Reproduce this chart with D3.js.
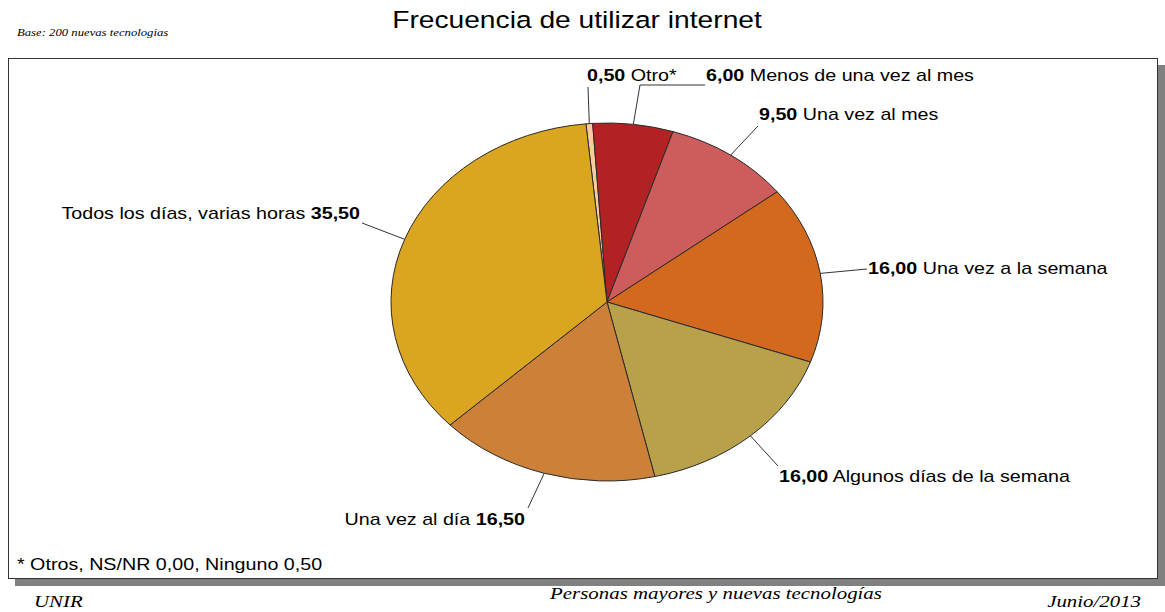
<!DOCTYPE html>
<html>
<head>
<meta charset="utf-8">
<script src="https://cdn.jsdelivr.net/npm/d3@7"></script>
<style>
  body { margin: 0; background: #fff; }
  svg { display: block; }
  .lbl { font-family: "Liberation Sans", Arial, sans-serif; font-size: 16.4px; fill: #000; }
  .serif { font-family: "Liberation Serif", "Times New Roman", serif; font-style: italic; fill: #000; }
</style>
</head>
<body>
<div id="content"></div>
<script>
// data
const categories = ['Otro*', 'Menos de una vez al mes', 'Una vez al mes', 'Una vez a la semana',
  'Algunos días de la semana', 'Una vez al día', 'Todos los días, varias horas'];
const values = [0.5, 6.0, 9.5, 16.0, 16.0, 16.5, 35.5];
const colors = ['#F8CB9A', '#B22222', '#CD5C5C', '#D2691E', '#B9A14B', '#CD8038', '#DAA520'];

const width = 1165, height = 612;
const cx = 607, cy = 302, rx = 216, ry = 179;
const startDeg = -5.6;
const stretch = 1.2; // the original picture is stretched horizontally

// label layout: text anchor point, side, and leader end points
const labelPos = [
  { x: 587, y: 81, anchor: 'start', valueFirst: true, line: [[588, 87]] },
  { x: 706, y: 81, anchor: 'start', valueFirst: true, line: [[640, 85], [705, 85]] },
  { x: 759, y: 120, anchor: 'start', valueFirst: true, line: [[758, 126]] },
  { x: 868, y: 274, anchor: 'start', valueFirst: true, line: [[867, 269]] },
  { x: 779, y: 482, anchor: 'start', valueFirst: true, line: [[778, 466]] },
  { x: 525, y: 525, anchor: 'end', valueFirst: false, line: [[528, 508]] },
  { x: 360, y: 219, anchor: 'end', valueFirst: false, line: [[362, 223]] }
];

const fmt = v => d3.format('.2f')(v).replace('.', ',');

const svg = d3.select('#content').append('svg')
  .attr('width', width)
  .attr('height', height);

function addText(x, y, cls, anchor) {
  return svg.append('text')
    .attr('class', cls)
    .attr('transform', `translate(${x},${y}) scale(${stretch},1)`)
    .attr('text-anchor', anchor || 'start');
}

// title + notes
addText(577, 28, 'lbl', 'middle')
  .style('font-size', '23.5px')
  .text('Frecuencia de utilizar internet');

addText(17, 36, 'serif')
  .style('font-size', '10.6px')
  .text('Base: 200 nuevas tecnologias');

// frame with shadow
svg.append('rect')
  .attr('x', 15).attr('y', 65)
  .attr('width', 1150).attr('height', 521)
  .attr('fill', '#808080');
svg.append('rect')
  .attr('x', 8.5).attr('y', 58.5)
  .attr('width', 1149).attr('height', 520)
  .attr('fill', '#fff')
  .attr('stroke', '#333')
  .attr('stroke-width', 1);

// pie
const pie = d3.pie()
  .sort(null)
  .value(d => d)
  .startAngle(startDeg * Math.PI / 180)
  .endAngle((startDeg + 360) * Math.PI / 180);

const arcs = pie(values);

const arc = d3.arc()
  .innerRadius(0)
  .outerRadius(ry);

const g = svg.append('g')
  .attr('transform', `translate(${cx},${cy}) scale(${rx / ry},1)`);

g.selectAll('path.slice')
  .data(arcs)
  .enter().append('path')
  .attr('class', 'slice')
  .attr('d', arc)
  .attr('fill', (d, i) => colors[i])
  .attr('stroke', '#2a2a2a')
  .attr('stroke-width', 1)
  .attr('vector-effect', 'non-scaling-stroke');

// leader lines, start on the rim at mid angle
const rim = d => {
  const a = (d.startAngle + d.endAngle) / 2;
  return [cx + rx * Math.sin(a), cy - ry * Math.cos(a)];
};

svg.selectAll('path.leader')
  .data(arcs)
  .enter().append('path')
  .attr('class', 'leader')
  .attr('d', (d, i) => d3.line()([rim(d)].concat(labelPos[i].line)))
  .attr('fill', 'none')
  .attr('stroke', '#333')
  .attr('stroke-width', 1);

// labels
arcs.forEach((d, i) => {
  const p = labelPos[i];
  const t = addText(p.x, p.y, 'lbl', p.anchor);
  if (p.valueFirst) {
    t.append('tspan').style('font-weight', 'bold').text(fmt(values[i]));
    t.append('tspan').text(' ' + categories[i]);
  } else {
    t.append('tspan').text(categories[i] + ' ');
    t.append('tspan').style('font-weight', 'bold').text(fmt(values[i]));
  }
});

// footnote + footer
addText(17, 570, 'lbl')
  .text('* Otros, NS/NR 0,00, Ninguno 0,50');

addText(34, 607, 'serif')
  .style('font-size', '17.4px')
  .text('UNIR');

addText(716, 599, 'serif', 'middle')
  .style('font-size', '17.4px')
  .text('Personas mayores y nuevas tecnologías');

addText(1141, 607, 'serif', 'end')
  .style('font-size', '17.4px')
  .text('Junio/2013');
</script>
</body>
</html>
